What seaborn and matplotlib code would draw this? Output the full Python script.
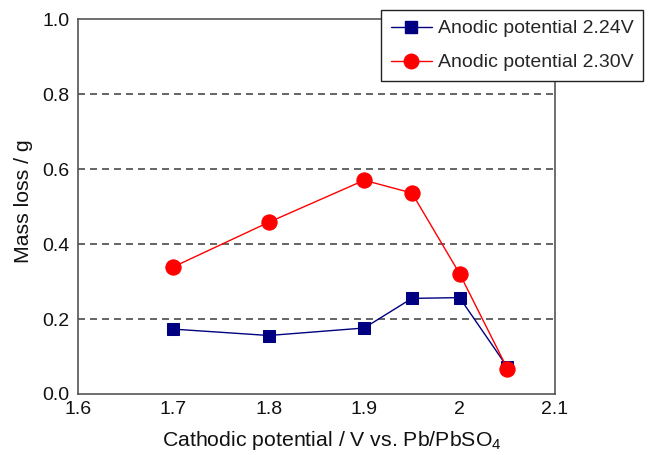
import matplotlib
matplotlib.use("Agg")
import matplotlib.pyplot as plt
import seaborn as sns
import pandas as pd
from matplotlib.lines import Line2D

cathodic = [1.7, 1.8, 1.9, 1.95, 2.0, 2.05]
loss_224 = [0.173, 0.156, 0.176, 0.255, 0.257, 0.072]
loss_230 = [0.339, 0.458, 0.570, 0.536, 0.321, 0.068]
series_names = ["Anodic potential 2.24V", "Anodic potential 2.30V"]
xticks = [1.6, 1.7, 1.8, 1.9, 2.0, 2.1]
xticklabels = ["1.6", "1.7", "1.8", "1.9", "2", "2.1"]
yticks = [0.0, 0.2, 0.4, 0.6, 0.8, 1.0]

df = pd.DataFrame({
    "x": cathodic + cathodic,
    "y": loss_224 + loss_230,
    "series": [series_names[0]] * len(cathodic) + [series_names[1]] * len(cathodic),
})

sns.set_style("white")
plt.rcParams["font.family"] = ["Liberation Sans", "DejaVu Sans"]
plt.rcParams["mathtext.fontset"] = "custom"
plt.rcParams["mathtext.rm"] = "Liberation Sans"
plt.rcParams["mathtext.it"] = "Liberation Sans"

colors = {series_names[0]: "#000080", series_names[1]: "#ff0000"}
markers = {series_names[0]: "s", series_names[1]: "o"}
sizes_m = {series_names[0]: 9.0, series_names[1]: 11}

fig = plt.figure(figsize=(6.53, 4.55), dpi=100)
ax = fig.add_axes([78 / 653, 61 / 455, 477 / 653, 375 / 455])

for name in series_names:
    sub = df[df["series"] == name]
    sns.lineplot(data=sub, x="x", y="y", ax=ax, color=colors[name],
                 marker=markers[name], markersize=sizes_m[name],
                 markeredgecolor=colors[name], linewidth=1.0,
                 legend=False, zorder=3)

ax.set_xlim(1.6, 2.1)
ax.set_ylim(0, 1.0)
ax.set_xticks(xticks)
ax.set_xticklabels(xticklabels)
ax.set_yticks(yticks)
ax.set_yticklabels([f"{v:.1f}" for v in yticks])
for v in yticks[1:-1]:
    ax.axhline(v, color="#4a4a4a", linestyle=(0, (4.2, 3)), linewidth=1.2, zorder=1)

for s in ax.spines.values():
    s.set_color("#555555")
    s.set_linewidth(1.2)
ax.tick_params(axis="x", direction="in", length=5, color="#555555", labelsize=14, pad=5,
               labelcolor="#111111")
ax.tick_params(axis="y", direction="in", length=4, color="#555555", labelsize=14, pad=6,
               labelcolor="#111111")
ax.set_xlabel(r"Cathodic potential / V vs. Pb/PbSO$_4$", fontsize=15.3, labelpad=8, color="#111111")
ax.set_ylabel("Mass loss / g", fontsize=15.3, labelpad=7, color="#111111")
ax.xaxis.label.set_x(0.532)
ax.yaxis.label.set_y(0.515)

handles = [Line2D([0], [0], color=colors[n], marker=markers[n], markersize=sizes_m[n] * 0.95,
                  linewidth=1.0) for n in series_names]
leg = fig.legend(handles, series_names, loc="upper right",
                 bbox_to_anchor=(643 / 653, 1 - 10 / 455), borderaxespad=0, fontsize=14,
                 frameon=True, fancybox=False, edgecolor="#222222", framealpha=1,
                 handlelength=2.1, borderpad=0.5, labelspacing=0.85, handletextpad=0.3)
leg.get_frame().set_linewidth(1.0)

fig.savefig("out.png", dpi=100)
